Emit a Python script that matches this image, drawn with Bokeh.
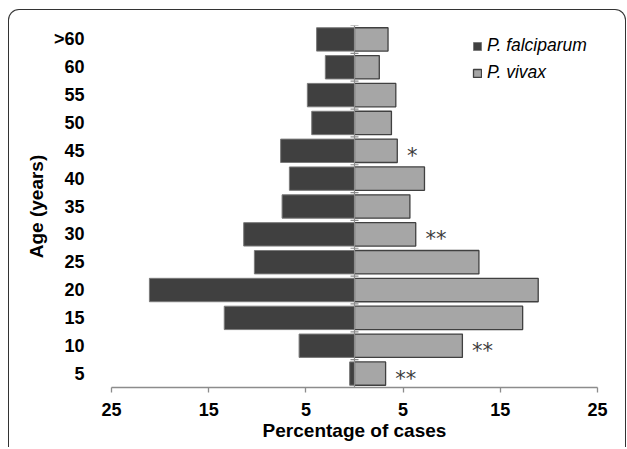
from bokeh.plotting import figure
from bokeh.models import (ColumnDataSource, FactorRange, Range1d, FixedTicker, Span,
                          Legend, LegendItem)
from bokeh.core.properties import value
from bokeh.embed import file_html
from bokeh.resources import INLINE

# ---- data (bottom to top) ----
age_groups = ["5", "10", "15", "20", "25", "30", "35", "40", "45", "50", "55", "60", ">60"]
falciparum = [0.5, 5.7, 13.4, 21.1, 10.3, 11.4, 7.45, 6.7, 7.6, 4.4, 4.85, 3.0, 3.9]
vivax = [3.2, 11.1, 17.3, 18.9, 12.8, 6.3, 5.7, 7.2, 4.4, 3.8, 4.25, 2.55, 3.45]
sig_groups = ["5", "10", "30", "45"]
sig_marks = ["**", "**", "**", "*"]
x_ticks = [-25, -15, -5, 5, 15, 25]
x_tick_labels = ["25", "15", "5", "5", "15", "25"]

DARK = "#404040"
LIGHT = "#a6a6a6"
AXIS_GRAY = "#8c8c8c"
FONT = "Liberation Sans"

src = ColumnDataSource(dict(
    age=age_groups,
    fal_left=[-v for v in falciparum],
    zero=[0] * len(age_groups),
    viv=vivax,
))

p = figure(width=618, height=438, output_backend="svg", toolbar_location=None,
           y_range=FactorRange(factors=age_groups, range_padding=0),
           x_range=Range1d(-25, 25),
           min_border_left=102, min_border_right=30, min_border_top=15, min_border_bottom=61,
           styles={"margin-left": "8px", "margin-top": "9px",
                   "border-top": "1.5px solid #333333", "border-left": "1.5px solid #333333",
                   "border-right": "1.5px solid #333333", "border-top-left-radius": "11px",
                   "border-top-right-radius": "11px", "box-sizing": "border-box"})
p.outline_line_color = None
p.border_fill_color = None
p.background_fill_color = None
p.xgrid.grid_line_color = None
p.ygrid.grid_line_color = None

r_f = p.hbar(y="age", left="fal_left", right="zero", height=0.84, source=src,
             fill_color=DARK, line_color="#7a7a7a", line_width=1)
r_v = p.hbar(y="age", left="zero", right="viv", height=0.84, source=src,
             fill_color=LIGHT, line_color=DARK, line_width=1.3)

# centre axis line with crossing tick marks at category boundaries
p.add_layout(Span(location=0, dimension="height", line_color=AXIS_GRAY, line_width=1.2))
bounds = [(a, -0.5) for a in age_groups] + [(age_groups[-1], 0.5)]
p.scatter(x=[0] * len(bounds), y=bounds, marker="dash", size=8,
          line_color=AXIS_GRAY, line_width=1.2)

# significance marks
sig_x = [vivax[age_groups.index(g)] + 1.0 for g in sig_groups]
p.text(x=sig_x, y=sig_groups, text=sig_marks, text_font=value("DejaVu Sans"),
       text_font_size="21px", text_color="#3c3c3c", text_baseline="middle", text_align="left",
       y_offset=5)

# x axis
xa = p.xaxis[0]
xa.ticker = FixedTicker(ticks=x_ticks)
xa.major_label_overrides = dict(zip(x_ticks, x_tick_labels))
xa.minor_tick_line_color = None
xa.axis_line_color = AXIS_GRAY
xa.axis_line_width = 1.3
xa.major_tick_line_color = AXIS_GRAY
xa.major_tick_line_width = 1.3
xa.major_tick_in = 0
xa.major_tick_out = 5
xa.major_label_standoff = 10
xa.major_label_text_font = FONT
xa.major_label_text_font_style = "bold"
xa.major_label_text_font_size = "18px"
xa.major_label_text_color = "black"
xa.axis_label = "Percentage of cases"
xa.axis_label_text_font = FONT
xa.axis_label_text_font_style = "bold"
xa.axis_label_text_font_size = "19px"
xa.axis_label_text_color = "black"
xa.axis_label_standoff = 1

# y axis
ya = p.yaxis[0]
ya.axis_line_color = None
ya.major_tick_line_color = None
ya.minor_tick_line_color = None
ya.major_label_standoff = 21
ya.major_label_text_font = FONT
ya.major_label_text_font_style = "bold"
ya.major_label_text_font_size = "18px"
ya.major_label_text_color = "black"
ya.axis_label = "Age (years)"
ya.axis_label_text_font = FONT
ya.axis_label_text_font_style = "bold"
ya.axis_label_text_font_size = "19px"
ya.axis_label_text_color = "black"
ya.axis_label_standoff = 4

legend = Legend(items=[LegendItem(label="P. falciparum", renderers=[r_f]),
                       LegendItem(label="P. vivax", renderers=[r_v])],
                location=(361, 304), orientation="vertical",
                label_text_font=FONT, label_text_font_style="italic",
                label_text_font_size="17.5px", label_text_color="black",
                glyph_width=10, glyph_height=10, label_height=20, spacing=6,
                label_standoff=5, padding=0, margin=0,
                border_line_color=None, background_fill_alpha=0)
p.add_layout(legend)

open("out.html", "w").write(file_html(p, INLINE))
